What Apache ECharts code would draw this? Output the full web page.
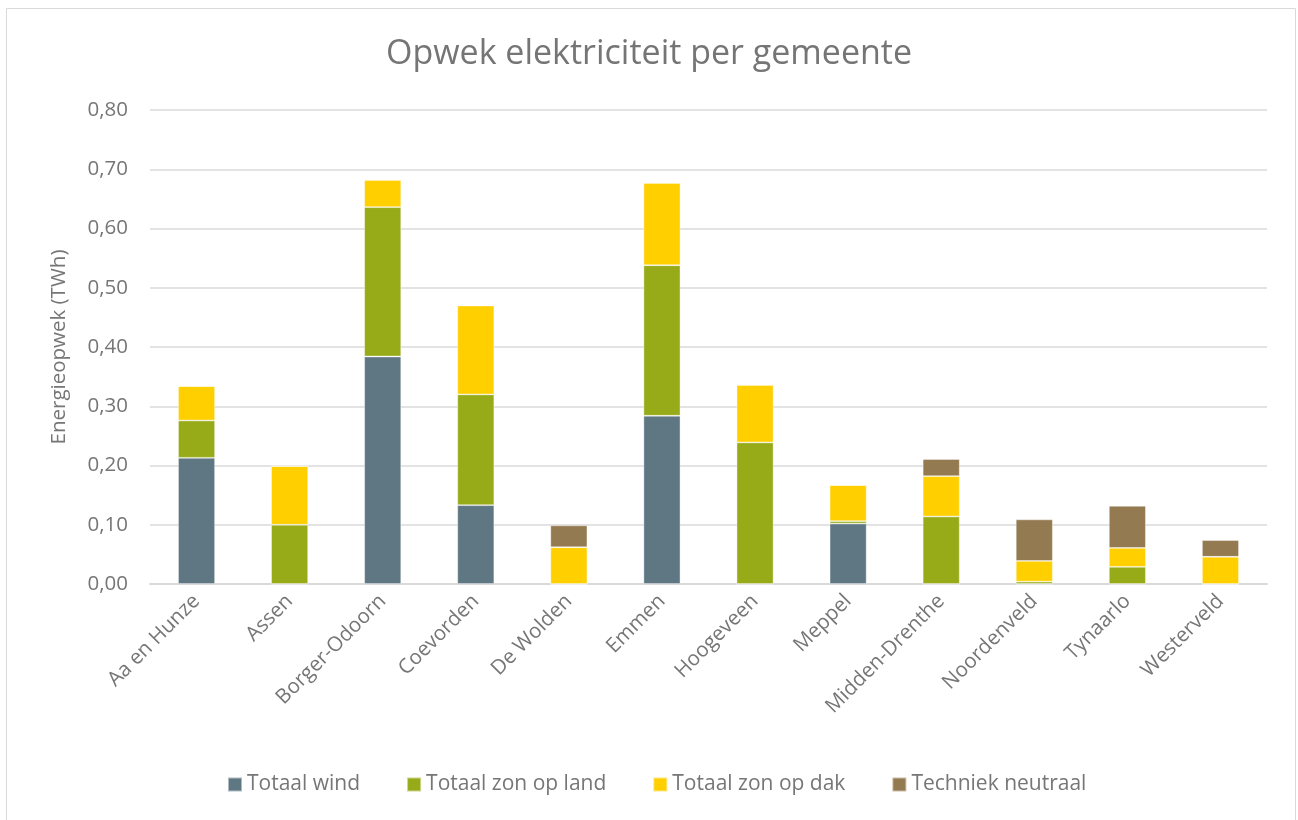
<!DOCTYPE html>
<html>
<head>
<meta charset="utf-8">
<script src="https://cdn.jsdelivr.net/npm/echarts@6/dist/echarts.min.js"></script>
<style>
html,body{margin:0;padding:0;background:#fff;}
#main{width:1298px;height:820px;}
</style>
</head>
<body>
<div id="main"></div>
<script>
const categories = ["Aa en Hunze","Assen","Borger-Odoorn","Coevorden","De Wolden","Emmen","Hoogeveen","Meppel","Midden-Drenthe","Noordenveld","Tynaarlo","Westerveld"];
const seriesNames = ["Totaal wind","Totaal zon op land","Totaal zon op dak","Techniek neutraal"];
const wind    = [0.213, 0,     0.384, 0.133, 0,     0.284, 0,     0.102, 0,     0,     0,     0];
const zonLand = [0.063, 0.100, 0.252, 0.187, 0,     0.254, 0.239, 0.004, 0.114, 0.004, 0.029, 0];
const zonDak  = [0.058, 0.099, 0.046, 0.150, 0.062, 0.139, 0.097, 0.061, 0.068, 0.035, 0.032, 0.046];
const neutraal= [0,     0,     0,     0,     0.037, 0,     0,     0,     0.029, 0.070, 0.071, 0.028];
const colors = ["#5f7783","#97ab19","#ffcf00","#937a50"];

const chart = echarts.init(document.getElementById('main'));
const font = "'Open Sans', sans-serif";
const dataSets = [wind, zonLand, zonDak, neutraal];
chart.setOption({
  animation: false,
  textStyle: {fontFamily: font},
  title: {
    text: "Opwek elektriciteit per gemeente",
    left: 'center', top: 32,
    textStyle: {fontFamily: font, fontSize: 34, fontWeight: 'normal', color: '#757575'}
  },
  graphic: [{
    type: 'rect', shape: {x: 6.5, y: 8.5, width: 1289, height: 820}, silent: true,
    style: {fill: 'none', stroke: '#d9d9d9', lineWidth: 1}
  }],
  legend: {
    bottom: 20, left: 222,
    itemWidth: 14, itemHeight: 14, itemGap: 46,
    icon: 'rect',
    textStyle: {fontFamily: font, fontSize: 21, color: '#767676'},
    data: seriesNames
  },
  grid: {left: 150, right: 31, top: 110, bottom: 236},
  xAxis: {
    type: 'category', data: categories,
    axisLine: {lineStyle: {color: '#d9d9d9', width: 2}},
    axisTick: {show: false},
    axisLabel: {rotate: 45, fontSize: 20.5, color: '#767676', margin: 14, interval: 0, fontFamily: font}
  },
  yAxis: {
    type: 'value', min: 0, max: 0.8, interval: 0.1,
    name: "Energieopwek (TWh)", nameLocation: 'middle', nameGap: 80, nameRotate: 90,
    nameTextStyle: {fontSize: 20.5, color: '#767676', fontFamily: font},
    axisLine: {show: false}, axisTick: {show: false},
    splitLine: {lineStyle: {color: '#e3e3e3', width: 2}},
    axisLabel: {fontSize: 20.5, color: '#767676', margin: 22, fontFamily: font,
      formatter: v => v.toFixed(2).replace('.', ',')}
  },
  series: seriesNames.map((n, i) => ({
    name: n, type: 'bar', stack: 'total', barWidth: 37,
    itemStyle: {color: colors[i], borderColor: 'rgba(255,255,255,0.5)', borderWidth: 0.8},
    data: dataSets[i]
  }))
});
</script>
</body>
</html>
